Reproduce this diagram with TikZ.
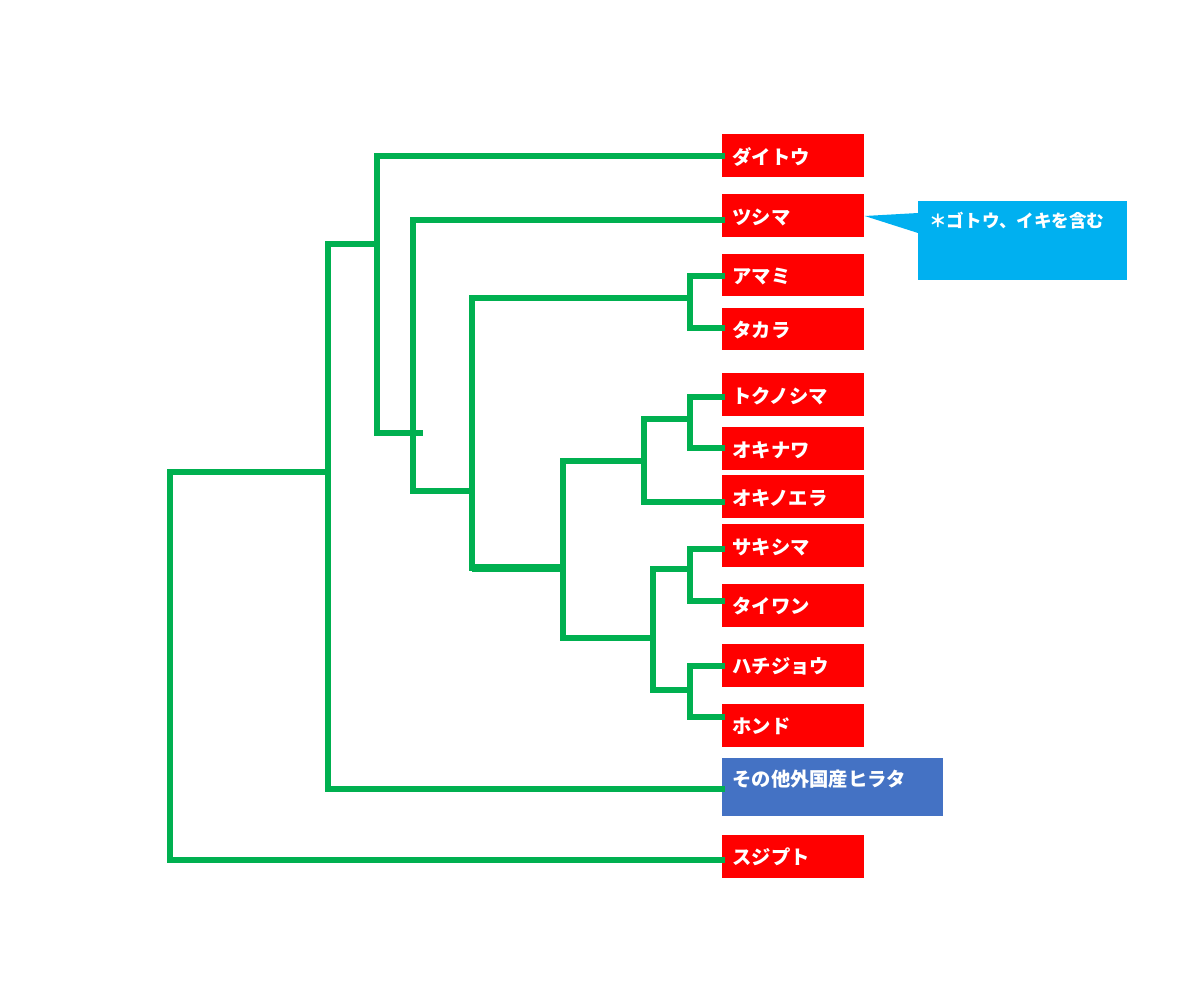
\documentclass[tikz,border=0pt]{standalone}
\usepackage{fontspec}
\newfontfamily\cjk{Noto Sans CJK JP}
\definecolor{boxred}{HTML}{FF0000}
\definecolor{treegreen}{HTML}{00B050}
\definecolor{otherblue}{HTML}{4472C4}
\definecolor{noteblue}{HTML}{00B0F0}
\tikzset{
  leafbox/.style={fill=boxred, text=white, font=\cjk\bfseries\fontsize{11}{13}\selectfont,
    anchor=west, minimum height=0.86cm, text width=2.44cm, inner xsep=0.2cm, inner ysep=0pt,
    align=left, text height=1.1em, text depth=0.12em},
  otherbox/.style={fill=otherblue, text=white, font=\cjk\bfseries\fontsize{11}{13}\selectfont,
    anchor=north west, text width=4.02cm, inner xsep=0.2cm, inner ysep=0.2cm,
    align=left, text height=0.36cm, text depth=0.40cm},
  notebox/.style={fill=noteblue, text=white, font=\cjk\bfseries\fontsize{10}{12}\selectfont,
    anchor=north west, text width=3.74cm, inner xsep=0.22cm, inner ysep=0.2cm,
    align=left, text height=0.32cm, text depth=0.86cm},
  branch/.style={draw=treegreen, line width=3.4pt, line cap=rect},
  thickbranch/.style={draw=treegreen, line width=4.6pt},
}
\begin{document}
\begin{tikzpicture}[x=0.02cm, y=-0.02cm]
\path[use as bounding box] (0,0) rectangle (1200,993);

% leaf boxes
\node[leafbox] (dai) at (722,155.5) {ダイトウ};
\node[leafbox] (tsu) at (722,215.5) {ツシマ};
\node[leafbox] (ama) at (722,275) {アマミ};
\node[leafbox] (tak) at (722,329) {タカラ};
\node[leafbox] (tok) at (722,394.5) {トクノシマ};
\node[leafbox] (oki) at (722,448.5) {オキナワ};
\node[leafbox] (oke) at (722,496.5) {オキノエラ};
\node[leafbox] (sak) at (722,545.5) {サキシマ};
\node[leafbox] (tai) at (722,605) {タイワン};
\node[leafbox] (hac) at (722,665) {ハチジョウ};
\node[leafbox] (hon) at (722,725) {ホンド};
\node[otherbox] (oth) at (722,758) {その他外国産ヒラタ};
\node[leafbox] (suj) at (722,856) {スジプト};

% callout
\node[notebox] (note) at (918,201) {＊ゴトウ、イキを含む};
\fill[noteblue] (tsu.east |- 0,216) -- (note.west |- 0,213) -- (note.west |- 0,233) -- cycle;

% internal coordinates
\coordinate (cR) at (170,472);
\coordinate (c1) at (328,472);
\coordinate (cA) at (328,244);
\coordinate (cB) at (377,244);
\coordinate (cBb) at (377,433);
\coordinate (cBt) at (420,433);
\coordinate (cC) at (413,491);
\coordinate (cD) at (472,491);
\coordinate (amt) at (690,298);
\coordinate (cG) at (472,568);
\coordinate (cH) at (563,568);
\coordinate (tkn) at (690,419);
\coordinate (ryu) at (644,461);
\coordinate (sht) at (653,638);
\coordinate (st) at (690,569);
\coordinate (hh) at (690,690);

% tree
\draw[branch] (suj.west |- 0,860) -| (cR) -- (c1);
\draw[branch] (oth.west |- 0,789) -| (cA) -- (cB);
\draw[branch] (dai.west |- 0,156) -| (cBb) -- (cBt);
\draw[branch] (tsu.west |- 0,220) -| (cC) -- (cD);
\draw[branch] (ama.west |- 0,276) -| (amt) |- (tak.west |- 0,328);
\draw[branch] (amt) -| (cG);
\draw[thickbranch] (cG) -- (cH);
\draw[branch] (tok.west |- 0,397) -| (tkn) |- (oki.west |- 0,448);
\draw[branch] (tkn) -| (ryu) |- (oke.west |- 0,502);
\draw[branch] (ryu) -| (cH) |- (sht);
\draw[branch] (sak.west |- 0,549) -| (st) |- (tai.west |- 0,601);
\draw[branch] (st) -| (sht) |- (hh);
\draw[branch] (hac.west |- 0,666) -| (hh) |- (hon.west |- 0,717);
\end{tikzpicture}
\end{document}
